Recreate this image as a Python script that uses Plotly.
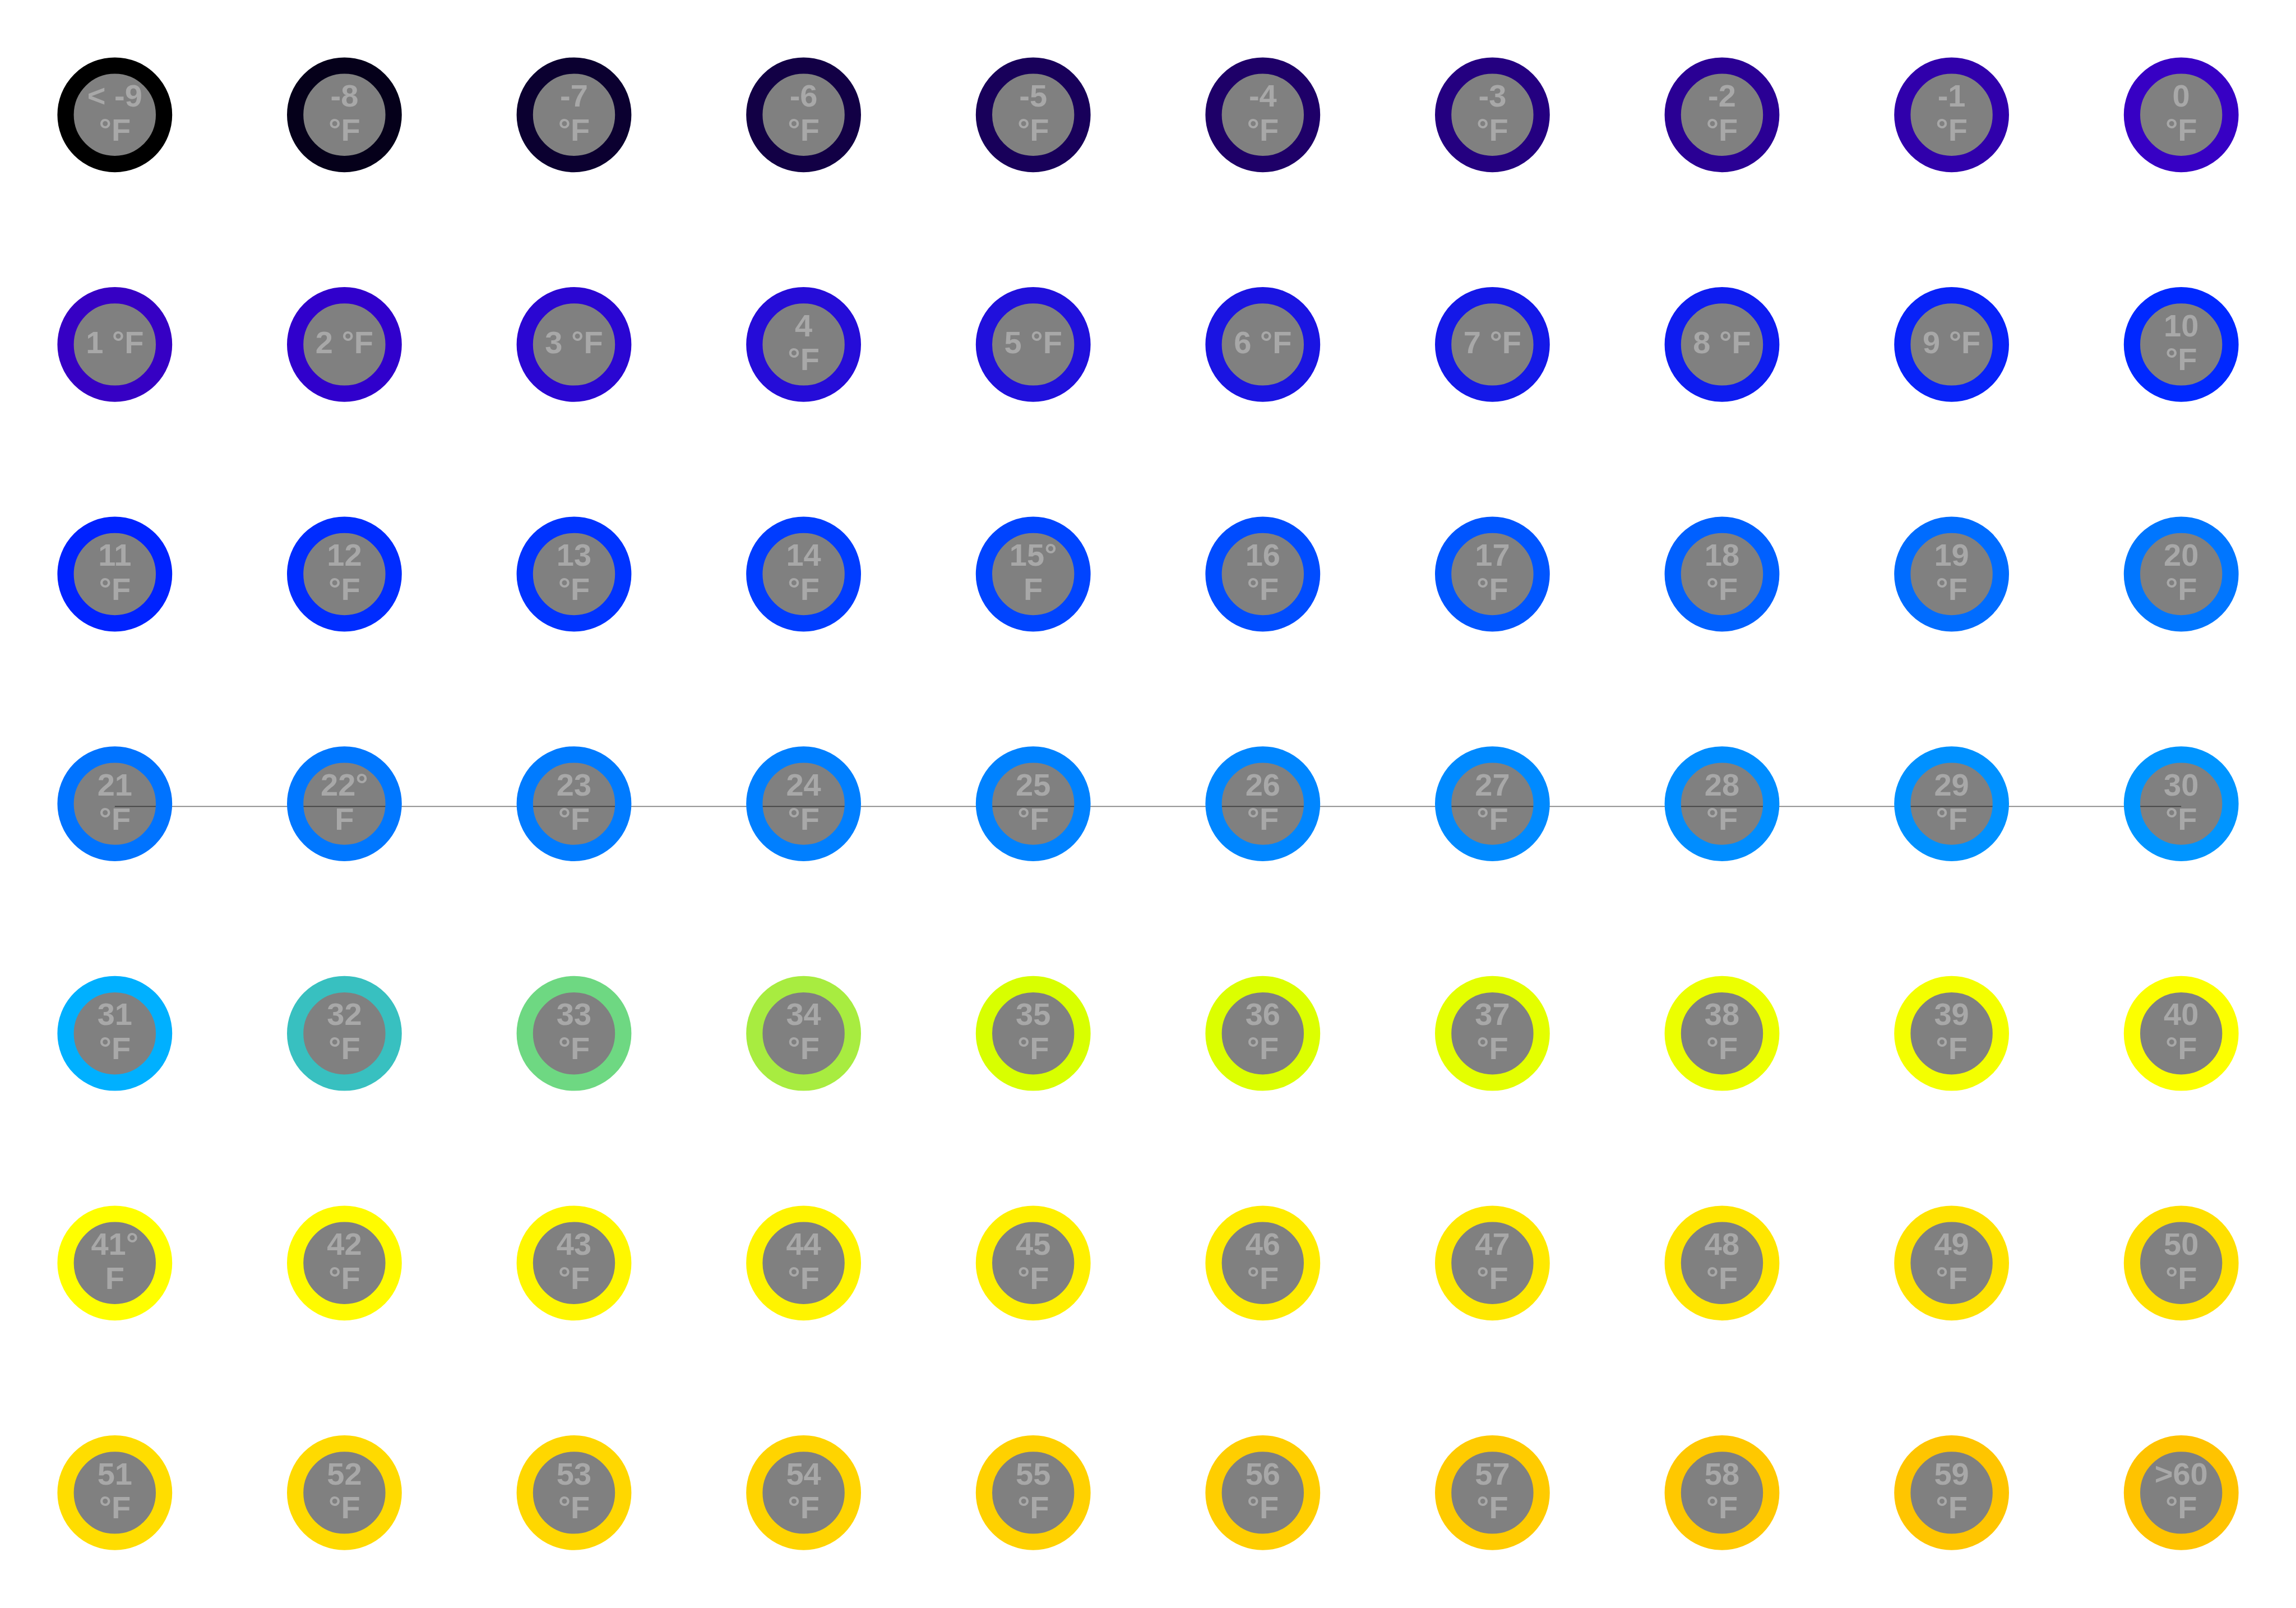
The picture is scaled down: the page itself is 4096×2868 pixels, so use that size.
import numpy as np
import plotly.graph_objects as go

# ---------------- data ----------------
n_cols = 10
labels = [
    "< -9<br>°F", "-8<br>°F", "-7<br>°F", "-6<br>°F", "-5<br>°F", "-4<br>°F", "-3<br>°F", "-2<br>°F", "-1<br>°F", "0<br>°F",
    "1 °F", "2 °F", "3 °F", "4<br>°F", "5 °F", "6 °F", "7 °F", "8 °F", "9 °F", "10<br>°F",
    "11<br>°F", "12<br>°F", "13<br>°F", "14<br>°F", "15°<br>F", "16<br>°F", "17<br>°F", "18<br>°F", "19<br>°F", "20<br>°F",
    "21<br>°F", "22°<br>F", "23<br>°F", "24<br>°F", "25<br>°F", "26<br>°F", "27<br>°F", "28<br>°F", "29<br>°F", "30<br>°F",
    "31<br>°F", "32<br>°F", "33<br>°F", "34<br>°F", "35<br>°F", "36<br>°F", "37<br>°F", "38<br>°F", "39<br>°F", "40<br>°F",
    "41°<br>F", "42<br>°F", "43<br>°F", "44<br>°F", "45<br>°F", "46<br>°F", "47<br>°F", "48<br>°F", "49<br>°F", "50<br>°F",
    "51<br>°F", "52<br>°F", "53<br>°F", "54<br>°F", "55<br>°F", "56<br>°F", "57<br>°F", "58<br>°F", "59<br>°F", ">60<br>°F",
]
ring_colors = [
    "#000000", "#05001a", "#0b0030", "#120045", "#18005a", "#1e0068", "#240080", "#2a0094", "#3000ab", "#3700c4",
    "#3600c4", "#3000cc", "#2a06d2", "#250cd8", "#2010dc", "#1a14e2", "#1418e8", "#0e1cf0", "#0822f8", "#0028ff",
    "#0022ff", "#002cff", "#0033ff", "#003cff", "#0044ff", "#004cff", "#0055ff", "#0060ff", "#006cff", "#0076ff",
    "#0073ff", "#0077ff", "#007bff", "#007fff", "#0082ff", "#0086ff", "#008aff", "#008dff", "#0091ff", "#0095ff",
    "#00b0ff", "#38c0c0", "#6ed882", "#a8ec40", "#d8ff00", "#dcff00", "#e4ff00", "#ecff00", "#f4ff00", "#fcff00",
    "#ffff00", "#fffb00", "#fff700", "#fff400", "#fff000", "#ffec00", "#ffe900", "#ffe600", "#ffe300", "#ffe000",
    "#ffdd00", "#ffda00", "#ffd700", "#ffd400", "#ffd100", "#ffce00", "#ffcb00", "#ffc800", "#ffc500", "#ffc300",
]
line_row = 3  # row carrying the horizontal reference line

# ---------------- geometry / style ----------------
W_REF, H_REF = 5120, 3585
S = 0.8
CELL = 512
n = len(labels)
idx = np.arange(n)
cx = CELL / 2 + CELL * (idx % n_cols)
cy = CELL / 2 + CELL * (idx // n_cols)

R_OUT = 128 * S
R_IN = 91.5 * S
RING_W = R_OUT - R_IN
TEXT_COLOR = "#a8a8a8"
FONT = "Liberation Sans, Arial, sans-serif"
FSIZE = 56

top_txt, bot_txt, ty_top, ty_bot, one_txt, one_x, one_y = [], [], [], [], [], [], []
tx2 = []
for i, lab in enumerate(labels):
    parts = lab.split("<br>")
    if len(parts) == 2:
        top_txt.append(parts[0]); bot_txt.append(parts[1])
        tx2.append(cx[i]); ty_top.append(cy[i] - 36); ty_bot.append(cy[i] + 40)
    else:
        one_txt.append(parts[0]); one_x.append(cx[i]); one_y.append(cy[i] + 2)

fig = go.Figure()

# inner grey discs
fig.add_trace(go.Scatter(
    x=cx, y=cy, mode="markers", hoverinfo="skip",
    marker=dict(size=2 * R_IN + 2, color="#808080", line=dict(width=0)),
))

# horizontal reference line (semi-transparent black)
row_mask = (idx // n_cols) == line_row
fig.add_trace(go.Scatter(
    x=cx[row_mask], y=cy[row_mask] + 6, mode="lines", hoverinfo="skip",
    line=dict(color="rgba(0,0,0,0.5)", width=1.6),
))

# coloured rings
fig.add_trace(go.Scatter(
    x=cx, y=cy, mode="markers", hoverinfo="skip",
    marker=dict(size=2 * R_IN + RING_W, color="rgba(0,0,0,0)",
                line=dict(width=RING_W, color=ring_colors)),
))

font = dict(family=FONT, size=FSIZE, color=TEXT_COLOR, weight="bold")
fig.add_trace(go.Scatter(x=tx2, y=ty_top, mode="text", text=top_txt,
                         textposition="middle center", textfont=font, hoverinfo="skip"))
fig.add_trace(go.Scatter(x=tx2, y=ty_bot, mode="text", text=bot_txt,
                         textposition="middle center", textfont=font, hoverinfo="skip"))
fig.add_trace(go.Scatter(x=one_x, y=one_y, mode="text", text=one_txt,
                         textposition="middle center", textfont=font, hoverinfo="skip"))

fig.update_layout(
    width=int(W_REF * S), height=int(round(H_REF * S)),
    margin=dict(l=0, r=0, t=0, b=0),
    paper_bgcolor="white", plot_bgcolor="white",
    showlegend=False,
    xaxis=dict(range=[0, W_REF], visible=False, fixedrange=True),
    yaxis=dict(range=[H_REF, 0], visible=False, fixedrange=True),
)

fig.write_html("out.html", config={"displayModeBar": False})
